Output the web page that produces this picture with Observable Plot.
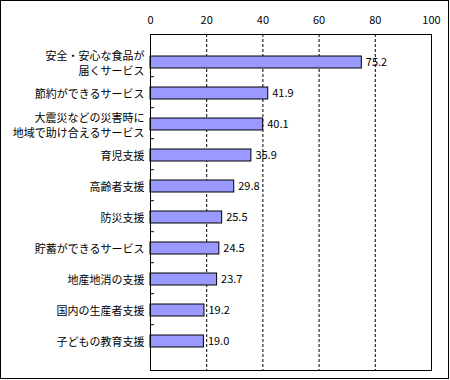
<!DOCTYPE html>
<html>
<head>
<meta charset="utf-8">
<script src="https://cdn.jsdelivr.net/npm/d3@7"></script>
<script src="https://cdn.jsdelivr.net/npm/@observablehq/plot@0.6"></script>
<style>
  html, body { margin: 0; padding: 0; background: #fff; }
  #box { width: 447px; height: 377px; border: 1px solid #000; overflow: hidden; }
  svg { display: block; }
</style>
</head>
<body>
<div id="box"></div>
<script>
const categories = [
  "安全・安心な食品が\n届くサービス",
  "節約ができるサービス",
  "大震災などの災害時に\n地域で助け合えるサービス",
  "育児支援",
  "高齢者支援",
  "防災支援",
  "貯蓄ができるサービス",
  "地産地消の支援",
  "国内の生産者支援",
  "子どもの教育支援"
];
const values = [75.2, 41.9, 40.1, 35.9, 29.8, 25.5, 24.5, 23.7, 19.2, 19.0];
const xTicks = [0, 20, 40, 60, 80, 100];
const gridTicks = [20, 40, 60, 80];

const data = categories.map((c, i) => ({category: c, value: values[i]}));

const W = 447, H = 377;
const mTop = 33, mBottom = 8, mLeft = 149, mRight = 17;
const step = (H - mTop - mBottom) / categories.length;

const chart = Plot.plot({
  width: W,
  height: H,
  marginTop: mTop,
  marginBottom: mBottom,
  marginLeft: mLeft,
  marginRight: mRight,
  style: {fontFamily: "'Noto Sans CJK JP', sans-serif", fontSize: "11px", color: "#000", background: "#fff"},
  x: {domain: [0, 100], axis: null, label: null},
  y: {domain: categories, padding: 0.61, axis: null, label: null},
  marks: [
    Plot.gridX(gridTicks, {stroke: "#000", strokeOpacity: 1, strokeDasharray: "3,2"}),
    Plot.axisX(xTicks, {anchor: "top", tickSize: 0, tickPadding: 11, fontSize: 11, fill: "#000", label: null}),
    Plot.axisY({anchor: "left", tickSize: 0, tickPadding: 6, fontSize: 11, fill: "#000", lineHeight: 1.4, label: null}),
    Plot.ruleY(categories.slice(1), {y: d => d, x1: 0, x2: 1.4, dy: -step / 2, stroke: "#000"}),
    Plot.barX(data, {y: "category", x: "value", fill: "#9999FF", stroke: "#000", strokeWidth: 1}),
    Plot.text(data, {y: "category", x: "value", text: d => d.value.toFixed(1), textAnchor: "start", dx: 4, fontSize: 11, fill: "#000"}),
    Plot.frame({stroke: "#000"})
  ]
});
document.getElementById("box").appendChild(chart);
</script>
</body>
</html>
